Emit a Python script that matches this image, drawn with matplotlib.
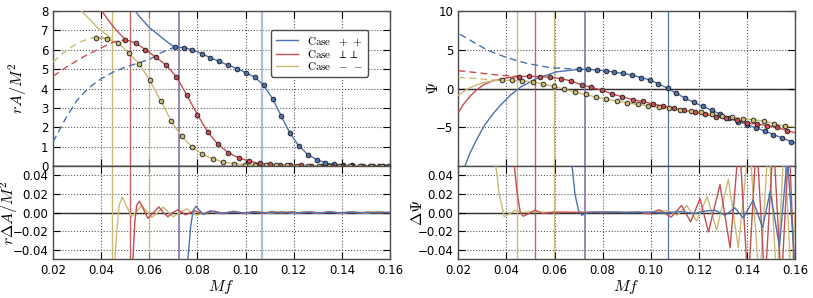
import numpy as np
import matplotlib
matplotlib.use('Agg')
import matplotlib.pyplot as plt

plt.rcParams['mathtext.fontset'] = 'cm'
plt.rcParams['font.size'] = 8.5

blue = '#4c72b0'
red = '#c44e52'
gold = '#ccb974'
purple = '#8172b2'

# ---- amplitude, r A / M^2 ----
amp_blue_dot_x = [0.0706, 0.0743, 0.0779, 0.0817, 0.0854, 0.0890, 0.0928, 0.0964, 0.1001, 0.1039, 0.1075, 0.1112, 0.1148,
                  0.1184, 0.1222, 0.1259, 0.1295, 0.1331, 0.1369, 0.1406, 0.1443, 0.1480, 0.1517, 0.1554, 0.1590]
amp_blue_dot_y = [6.14, 6.11, 6.0, 5.8, 5.59, 5.40, 5.20, 5.03, 4.82, 4.58, 4.17, 3.48, 2.58,
                  1.70, 1.02, 0.59, 0.33, 0.16, 0.08, 0.04, 0.03, 0.02, 0.02, 0.01, 0.01]
amp_blue_line_x = [0.053, 0.056, 0.060, 0.064, 0.068]
amp_blue_line_y = [8.2, 7.7, 7.15, 6.75, 6.35]
amp_blue_dash_x = [0.02, 0.025, 0.03, 0.035, 0.04, 0.045, 0.05, 0.055, 0.06, 0.065, 0.0706]
amp_blue_dash_y = [1.24, 2.4, 3.4, 4.05, 4.5, 4.85, 5.1, 5.3, 5.5, 5.85, 6.14]

amp_red_dot_x = [0.0501, 0.0544, 0.0584, 0.0626, 0.0671, 0.0713, 0.0756, 0.0800, 0.0843, 0.0885, 0.0928, 0.0972, 0.1015,
                 0.1058, 0.1100, 0.1143, 0.1186, 0.1229, 0.1272, 0.1314, 0.1357, 0.1400, 0.1443, 0.1486, 0.1528, 0.1571]
amp_red_dot_y = [6.52, 6.35, 6.0, 5.63, 5.2, 4.6, 3.65, 2.65, 1.76, 1.12, 0.69, 0.42, 0.25,
                 0.13, 0.08, 0.05, 0.04, 0.03, 0.02, 0.02, 0.01, 0.01, 0.01, 0.01, 0.0, 0.0]
amp_red_line_x = [0.0397, 0.042, 0.045, 0.0475]
amp_red_line_y = [8.1, 7.7, 7.2, 6.85]
amp_red_dash_x = [0.02, 0.0255, 0.0325, 0.0394, 0.045, 0.0501]
amp_red_dash_y = [4.63, 5.1, 5.63, 6.06, 6.4, 6.52]

amp_gold_dot_x = [0.038, 0.0425, 0.047, 0.0515, 0.0558, 0.0602, 0.0648, 0.0691, 0.0734, 0.0778, 0.0821, 0.0865, 0.0907, 0.0953,
                  0.0997, 0.104, 0.1084, 0.1128, 0.1172, 0.1215, 0.1259, 0.1303, 0.1346, 0.139, 0.1434, 0.1477, 0.1521, 0.1565]
amp_gold_dot_y = [6.63, 6.57, 6.35, 5.83, 5.28, 4.42, 3.36, 2.32, 1.53, 0.98, 0.6, 0.38, 0.2, 0.12,
                  0.07, 0.05, 0.04, 0.03, 0.03, 0.02, 0.02, 0.01, 0.01, 0.01, 0.01, 0.01, 0.01, 0.01]
amp_gold_line_x = [0.0318, 0.035, 0.038, 0.041, 0.044]
amp_gold_line_y = [8.0, 7.6, 7.2, 6.9, 6.6]
amp_gold_dash_x = [0.02, 0.0255, 0.031, 0.0366, 0.038]
amp_gold_dash_y = [5.37, 5.97, 6.4, 6.63, 6.63]

# ---- amplitude residuals ----
damp_blue_x = [0.0757, 0.0772, 0.0782, 0.0794, 0.081, 0.0824, 0.0855, 0.089, 0.095, 0.1, 0.105, 0.11, 0.115, 0.12,
               0.125, 0.13, 0.135, 0.14, 0.145, 0.15, 0.155, 0.16]
damp_blue_y = [-0.06, -0.015, 0.002, 0.0067, 0.002, -0.002, 0.0018, -0.0008, 0.0005, -0.0005, 0.0004, -0.0004, 0.0004, -0.0004,
               0.0003, -0.0003, 0.0003, -0.0003, 0.0003, -0.0003, 0.0003, 0.0]
damp_red_x = [0.0528, 0.054, 0.0548, 0.0559, 0.0575, 0.0594, 0.0617, 0.064, 0.0658, 0.0677, 0.0698, 0.0719, 0.075, 0.079,
              0.083, 0.087, 0.091, 0.095, 0.099, 0.103, 0.107, 0.111, 0.115, 0.119, 0.123, 0.127, 0.131, 0.135,
              0.139, 0.143, 0.147, 0.151, 0.155, 0.16]
damp_red_y = [-0.07, -0.01, 0.008, 0.0123, 0.004, -0.0063, 0.0, 0.006, 0.0, -0.0046, 0.0, 0.003, -0.0025, 0.0018,
              -0.0015, 0.0015, -0.0012, 0.0012, -0.001, 0.001, -0.001, 0.001, -0.0008, 0.0008, -0.0008, 0.0008, -0.0008, 0.0008,
              -0.0006, 0.0006, -0.0006, 0.0006, -0.0006, 0.0]
damp_gold_x = [0.0452, 0.0465, 0.0475, 0.0488, 0.0505, 0.0527, 0.0548, 0.0568, 0.059, 0.061, 0.0635, 0.0658, 0.068, 0.07,
               0.0728, 0.0755, 0.0777, 0.0797, 0.085, 0.09, 0.095, 0.1, 0.105, 0.11, 0.115, 0.12, 0.125, 0.13,
               0.135, 0.14, 0.145, 0.15, 0.155, 0.16]
damp_gold_y = [-0.07, -0.02, 0.008, 0.0165, 0.007, -0.0046, 0.001, 0.0077, 0.001, -0.0053, 0.0, 0.006, 0.0, -0.0046,
               0.0, 0.004, 0.0, -0.003, 0.0015, -0.0015, 0.0015, -0.001, 0.001, -0.001, 0.001, -0.001, 0.001, -0.001,
               0.001, -0.001, 0.001, -0.001, 0.001, 0.0]

# ---- phase, Psi ----
phi_blue_dot_x = [0.0702, 0.0738, 0.0775, 0.0813, 0.0849, 0.0886, 0.0924, 0.0960, 0.0997, 0.1032, 0.1070, 0.1105, 0.1143,
                  0.1180, 0.1216, 0.1253, 0.1290, 0.1327, 0.1364, 0.1402, 0.1438, 0.1475, 0.1510, 0.1547, 0.1583]
phi_blue_dot_y = [2.48, 2.48, 2.39, 2.3, 2.1, 1.95, 1.71, 1.41, 1.11, 0.6, 0.04, -0.6, -1.24,
                  -1.8, -2.3, -2.8, -3.33, -3.85, -4.27, -4.66, -5.09, -5.5, -5.94, -6.41, -6.84]
phi_blue_line_x = [0.0228, 0.0245, 0.0276, 0.031, 0.0346, 0.038, 0.0415, 0.046, 0.0526, 0.0609]
phi_blue_line_y = [-10.0, -8.6, -6.6, -4.7, -3.2, -2.0, -0.9, 0.2, 1.3, 2.15]
phi_blue_dash_x = [0.0207, 0.0318, 0.04, 0.0484, 0.058, 0.0702]
phi_blue_dash_y = [7.0, 5.0, 4.0, 3.25, 2.7, 2.48]

phi_red_dot_x = [0.0454, 0.0495, 0.054, 0.0581, 0.0626, 0.0668, 0.0713, 0.0752, 0.0796, 0.0838, 0.0882, 0.0925, 0.0967, 0.1011,
                 0.1053, 0.1097, 0.1138, 0.1184, 0.1226, 0.1272, 0.1313, 0.1357, 0.1399, 0.1441, 0.1482, 0.1524, 0.1565]
phi_red_dot_y = [1.54, 1.58, 1.54, 1.45, 1.28, 0.98, 0.47, 0.17, -0.21, -0.68, -1.07, -1.45, -1.67, -2.0,
                 -2.3, -2.52, -2.82, -3.03, -3.33, -3.67, -3.85, -4.1, -4.44, -4.6, -4.79, -5.0, -5.43]
phi_red_line_x = [0.02, 0.0225, 0.0249, 0.0276, 0.0304, 0.034, 0.0373, 0.041]
phi_red_line_y = [-3.1, -1.9, -1.0, -0.2, 0.47, 0.95, 1.2, 1.42]
phi_red_dash_x = [0.02, 0.0276, 0.036, 0.0454]
phi_red_dash_y = [2.3, 2.05, 1.75, 1.54]

phi_gold_dot_x = [0.038, 0.0422, 0.0466, 0.0509, 0.0553, 0.0598, 0.0641, 0.0685, 0.0730, 0.0771, 0.0814, 0.0858, 0.0903, 0.0946,
                  0.099, 0.1034, 0.1077, 0.1122, 0.1166, 0.1208, 0.1253, 0.1295, 0.134, 0.1382, 0.1427, 0.1471, 0.1514, 0.1558]
phi_gold_dot_y = [1.07, 1.07, 0.98, 0.85, 0.6, 0.26, -0.09, -0.47, -0.77, -1.11, -1.37, -1.58, -1.88, -2.05,
                  -2.22, -2.44, -2.56, -2.74, -2.95, -3.08, -3.33, -3.55, -3.72, -3.89, -4.02, -4.23, -4.53, -4.87]
phi_gold_line_x = [0.02, 0.0235, 0.0276, 0.0311, 0.0346]
phi_gold_line_y = [-0.9, -0.1, 0.47, 0.8, 1.0]
phi_gold_dash_x = [0.02, 0.0276, 0.0346, 0.038]
phi_gold_dash_y = [1.45, 1.28, 1.1, 1.07]

phi_end_x = 0.16
phi_end_blue, phi_end_red, phi_end_gold = -7.0, -5.7, -4.95

# ---- phase residuals ----
dphi_blue_x = [0.0669, 0.0685, 0.070, 0.0713, 0.074, 0.08, 0.09, 0.1, 0.105, 0.112, 0.1185, 0.1225, 0.1267, 0.1309,
               0.135, 0.1385, 0.1425, 0.1465, 0.1497, 0.1535, 0.1568, 0.16]
dphi_blue_y = [0.06, 0.02, 0.002, -0.003, 0.0, 0.0005, 0.0, 0.0005, -0.0005, 0.001, -0.001, 0.0015, 0.0025, -0.003,
               0.005, -0.006, 0.013, -0.016, 0.023, -0.037, 0.06, -0.06]
dphi_red_x = [0.0429, 0.0445, 0.0458, 0.047, 0.0495, 0.0519, 0.055, 0.06, 0.07, 0.08, 0.09, 0.095, 0.099, 0.1035,
              0.1085, 0.1128, 0.1166, 0.1205, 0.124, 0.1288, 0.133, 0.1368, 0.1405, 0.144, 0.1475, 0.151, 0.1543, 0.1575, 0.16]
dphi_red_y = [0.06, 0.02, 0.0, -0.004, -0.001, 0.0025, -0.001, 0.0005, 0.0, 0.0005, 0.0, 0.0005, -0.0015, 0.003,
              -0.005, 0.0075, -0.01, 0.015, -0.021, 0.03, -0.038, 0.08, -0.08, 0.08, -0.08, 0.08, -0.08, 0.08, -0.08]
dphi_gold_x = [0.0352, 0.037, 0.0391, 0.0415, 0.0436, 0.046, 0.05, 0.06, 0.07, 0.08, 0.09, 0.1, 0.1035, 0.1072,
               0.111, 0.115, 0.1191, 0.1235, 0.1274, 0.1323, 0.1364, 0.141, 0.1452, 0.149, 0.1525, 0.1555, 0.1585, 0.16]
dphi_gold_y = [0.06, 0.02, -0.0046, -0.001, 0.0025, 0.0, 0.0008, 0.0, 0.0005, 0.0, 0.0005, 0.0, 0.001, 0.002,
               -0.003, 0.0075, -0.009, 0.017, -0.019, 0.036, -0.038, 0.08, -0.08, 0.08, -0.08, 0.08, -0.08, 0.0]

# markers of matching frequencies
vl_gold1, vl_red, vl_gold2, vl_purple, vl_blue = 0.0445, 0.052, 0.0597, 0.0725, 0.107

labels = [r'$\mathrm{Case}\ \ +\,+$', r'$\mathrm{Case}\ \ \perp\perp$', r'$\mathrm{Case}\ \ -\;-$']


def style(ax):
    ax.set_xlim(0.02, 0.16)
    ax.grid(True, ls=':', color='0.35', lw=0.8)
    ax.tick_params(direction='in', top=True, right=True, length=5, width=0.8, labelsize=8.5)
    for s in ax.spines.values():
        s.set_color('0.3')
        s.set_linewidth(1.0)
    ax.axhline(0, color='0.1', lw=1.0, zorder=1)


def vlines(ax, right=False):
    ax.axvline(vl_gold1, color=gold, lw=1.0, zorder=2)
    ax.axvline(vl_red, color=red, lw=1.0, alpha=0.9, zorder=2)
    ax.axvline(vl_gold2, color=gold, lw=1.0, alpha=0.7 if not right else 0.9, zorder=2)
    ax.axvline(vl_purple, color=purple, lw=1.2, zorder=2)
    if right:
        ax.axvline(vl_blue, color=blue, lw=0.9, zorder=2)
    else:
        ax.axvline(vl_blue, color='#a9bfe0', lw=1.6, zorder=2)


fig = plt.figure(figsize=(8.13, 2.98), dpi=100)
ax1 = fig.add_axes([0.0652, 0.443, 0.4145, 0.520])
ax2 = fig.add_axes([0.0652, 0.1309, 0.4145, 0.312])
ax3 = fig.add_axes([0.5637, 0.443, 0.4142, 0.520])
ax4 = fig.add_axes([0.5637, 0.1309, 0.4142, 0.312])

mk = dict(marker='o', ms=3.4, mec='0.1', mew=0.6, ls='none', zorder=5)
dash = dict(lw=1.0, ls='--', dashes=(5, 3), zorder=4)

# amplitude panel
style(ax1)
vlines(ax1)
ax1.plot(amp_blue_line_x + amp_blue_dot_x, amp_blue_line_y + amp_blue_dot_y, color=blue, lw=1.0, label=labels[0], zorder=4)
ax1.plot(amp_red_line_x + amp_red_dot_x, amp_red_line_y + amp_red_dot_y, color=red, lw=1.0, label=labels[1], zorder=4)
ax1.plot(amp_gold_line_x + amp_gold_dot_x, amp_gold_line_y + amp_gold_dot_y, color=gold, lw=1.0, label=labels[2], zorder=4)
ax1.plot(amp_blue_dash_x, amp_blue_dash_y, color=blue, **dash)
ax1.plot(amp_red_dash_x, amp_red_dash_y, color=red, **dash)
ax1.plot(amp_gold_dash_x, amp_gold_dash_y, color=gold, **dash)
ax1.plot(amp_blue_dot_x, amp_blue_dot_y, mfc=blue, **mk)
ax1.plot(amp_red_dot_x, amp_red_dot_y, mfc=red, **mk)
ax1.plot(amp_gold_dot_x, amp_gold_dot_y, mfc=gold, **mk)
ax1.set_ylim(0, 8)
ax1.set_yticks(range(0, 9))
ax1.set_xticks(np.arange(0.02, 0.161, 0.02))
ax1.tick_params(labelbottom=False)
ax1.set_ylabel(r'$rA/M^2$', fontsize=11.5)
ax1.yaxis.set_label_coords(-0.07, 0.5)
leg = ax1.legend(loc='upper right', bbox_to_anchor=(0.935, 0.877), fontsize=8, handlelength=2.0,
                 labelspacing=0.0, borderpad=0.45, borderaxespad=0, fancybox=True, framealpha=1)
leg.get_frame().set_edgecolor('0.3')

style(ax2)
vlines(ax2)
ax2.plot(damp_gold_x, damp_gold_y, color=gold, lw=1.0, zorder=4)
ax2.plot(damp_red_x, damp_red_y, color=red, lw=1.0, zorder=4)
ax2.plot(damp_blue_x, damp_blue_y, color=blue, lw=1.0, zorder=4)
ax2.set_ylim(-0.05, 0.05)
ax2.set_yticks([-0.04, -0.02, 0.0, 0.02, 0.04])
ax2.set_xticks(np.arange(0.02, 0.161, 0.02))
ax2.set_ylabel(r'$r\Delta A/M^2$', fontsize=11.5)
ax2.yaxis.set_label_coords(-0.098, 0.5)
ax2.set_xlabel(r'$Mf$', fontsize=11.5, labelpad=1)

# phase panel
style(ax3)
vlines(ax3, right=True)
ax3.plot(phi_blue_line_x + phi_blue_dot_x + [phi_end_x], phi_blue_line_y + phi_blue_dot_y + [phi_end_blue], color=blue, lw=1.0, zorder=4)
ax3.plot(phi_red_line_x + phi_red_dot_x + [phi_end_x], phi_red_line_y + phi_red_dot_y + [phi_end_red], color=red, lw=1.0, zorder=4)
ax3.plot(phi_gold_line_x + phi_gold_dot_x + [phi_end_x], phi_gold_line_y + phi_gold_dot_y + [phi_end_gold], color=gold, lw=1.0, zorder=4)
ax3.plot(phi_blue_dash_x, phi_blue_dash_y, color=blue, **dash)
ax3.plot(phi_red_dash_x, phi_red_dash_y, color=red, **dash)
ax3.plot(phi_gold_dash_x, phi_gold_dash_y, color=gold, **dash)
ax3.plot(phi_blue_dot_x, phi_blue_dot_y, mfc=blue, **mk)
ax3.plot(phi_red_dot_x, phi_red_dot_y, mfc=red, **mk)
ax3.plot(phi_gold_dot_x, phi_gold_dot_y, mfc=gold, **mk)
ax3.set_ylim(-10, 10)
ax3.set_yticks([-5, 0, 5, 10])
ax3.set_xticks(np.arange(0.02, 0.161, 0.02))
ax3.tick_params(labelbottom=False)
ax3.set_ylabel(r'$\Psi$', fontsize=11.5)
ax3.yaxis.set_label_coords(-0.05, 0.5)

style(ax4)
vlines(ax4, right=True)
ax4.plot(dphi_gold_x, dphi_gold_y, color=gold, lw=1.0, zorder=4)
ax4.plot(dphi_red_x, dphi_red_y, color=red, lw=1.0, zorder=4)
ax4.plot(dphi_blue_x, dphi_blue_y, color=blue, lw=1.0, zorder=4)
ax4.set_ylim(-0.05, 0.05)
ax4.set_yticks([-0.04, -0.02, 0.0, 0.02, 0.04])
ax4.set_xticks(np.arange(0.02, 0.161, 0.02))
ax4.set_ylabel(r'$\Delta\Psi$', fontsize=11.5)
ax4.yaxis.set_label_coords(-0.1, 0.5)
ax4.set_xlabel(r'$Mf$', fontsize=11.5, labelpad=1)

fig.savefig('out.png', dpi=100)
